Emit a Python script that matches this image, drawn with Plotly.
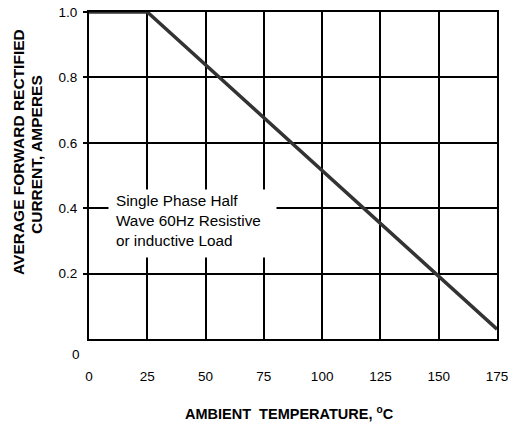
import plotly.graph_objects as go

temperature_c = [0, 25, 175]
current_a = [1.0, 1.0, 0.03]

x_ticks = [0, 25, 50, 75, 100, 125, 150, 175]
x_tick_labels = ["0", "25", "50", "75", "100", "125", "150", "175"]
y_ticks = [0.2, 0.4, 0.6, 0.8, 1.0]
y_tick_labels = ["0.2", "0.4", "0.6", "0.8", "1.0"]

note_lines = ["Single Phase Half", "Wave 60Hz Resistive", "or inductive Load"]

FONT = "Liberation Sans, Arial, sans-serif"
W, H = 508, 427
L, R, T, B = 89, 11, 12, 88
PW, PH = W - L - R, H - T - B


def px(xp):
    return (xp - L) / PW


def py(yp):
    return (H - B - yp) / PH


fig = go.Figure()
fig.add_trace(go.Scatter(
    x=temperature_c, y=current_a, mode="lines",
    line=dict(color="#333333", width=3.5), showlegend=False, hoverinfo="skip",
))

fig.update_layout(
    width=W, height=H,
    margin=dict(l=L, r=R, t=T, b=B),
    paper_bgcolor="white", plot_bgcolor="white",
    font=dict(family=FONT, size=13.5, color="black"),
    xaxis=dict(
        range=[0, 175], tickvals=x_ticks, ticktext=x_tick_labels,
        showgrid=True, gridcolor="black", gridwidth=2,
        showline=True, linecolor="black", linewidth=2, mirror=True,
        ticks="", ticklabelstandoff=24, zeroline=False, automargin=False,
        ticklabeloverflow="allow", tickfont=dict(size=13.5),
    ),
    yaxis=dict(
        range=[0, 1.0], tickvals=y_ticks, ticktext=y_tick_labels,
        showgrid=True, gridcolor="black", gridwidth=2,
        showline=True, linecolor="black", linewidth=2, mirror=True,
        ticks="outside", ticklen=4, tickwidth=2, tickcolor="black",
        ticklabelstandoff=3, zeroline=False, automargin=False,
        ticklabeloverflow="allow", tickfont=dict(size=13.5),
    ),
)

# white box that interrupts the grid behind the note
fig.add_annotation(x=px(108), y=py(189), xref="paper", yref="paper",
                   text=" ", showarrow=False, xanchor="left", yanchor="top",
                   width=167, height=67, borderpad=0, bgcolor="white")

# y "0" label sits below the axis corner
fig.add_annotation(x=px(82), y=py(354), xref="paper", yref="paper", text="0",
                   showarrow=False, xanchor="right", yanchor="middle",
                   font=dict(size=13.5))

# note text
fig.add_annotation(x=px(114), y=py(190), xref="paper", yref="paper",
                   text="<br>".join(note_lines), showarrow=False,
                   xanchor="left", yanchor="top", align="left",
                   font=dict(size=15.3))

# axis titles
fig.add_annotation(x=px(19), y=py(152), xref="paper", yref="paper",
                   text="<b>AVERAGE FORWARD RECTIFIED</b>",
                   showarrow=False, textangle=-90, xanchor="center", yanchor="middle",
                   font=dict(size=15.5))
fig.add_annotation(x=px(36), y=py(154), xref="paper", yref="paper",
                   text="<b>CURRENT, AMPERES</b>",
                   showarrow=False, textangle=-90, xanchor="center", yanchor="middle",
                   font=dict(size=15.5))
fig.add_annotation(x=px(289), y=py(413), xref="paper", yref="paper",
                   text="<b>AMBIENT  TEMPERATURE, <sup>o</sup>C</b>",
                   showarrow=False, xanchor="center", yanchor="middle",
                   font=dict(size=14.5))

fig.write_html("out.html", config={"displayModeBar": False},
               post_script="document.body.style.margin='0';document.body.style.padding='0';")
